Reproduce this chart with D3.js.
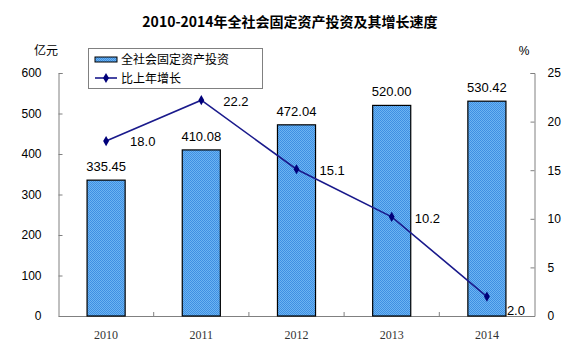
<!DOCTYPE html>
<html><head><meta charset="utf-8">
<script src="https://cdn.jsdelivr.net/npm/d3@7"></script>
<style>body{margin:0;background:#fff}svg{display:block}</style>
</head><body><svg id="c" width="576" height="357"></svg>
<script>
const years = ["2010","2011","2012","2013","2014"];
const investment = [335.45, 410.08, 472.04, 520.00, 530.42];
const growth = [18.0, 22.2, 15.1, 10.2, 2.0];
const leftTicks = [0,100,200,300,400,500,600];
const rightTicks = [0,5,10,15,20,25];
const title = "2010-2014年全社会固定资产投资及其增长速度";
const seriesNames = ["全社会固定资产投资","比上年增长"];

const svg = d3.select("#c");
const m={l:58.5,r:534.5,t:73,b:316};
const font="Arial, 'Liberation Sans', 'Noto Sans CJK SC', sans-serif";
const cjk="'Noto Sans CJK SC', sans-serif";

const defs=svg.append("defs");
const pat=defs.append("pattern").attr("id","dots").attr("patternUnits","userSpaceOnUse").attr("width",2).attr("height",2);
pat.append("rect").attr("width",2).attr("height",2).attr("fill","#6cb4f2");
pat.append("rect").attr("width",1).attr("height",1).attr("fill","#3f8fe2");
pat.append("rect").attr("x",1).attr("y",1).attr("width",1).attr("height",1).attr("fill","#3f8fe2");

const x=d3.scaleBand().domain(years).range([m.l,m.r]);
const yL=d3.scaleLinear().domain([0,600]).range([m.b,m.t]);
const yR=d3.scaleLinear().domain([0,25]).range([m.b,m.t]);

svg.append("text").attr("x",290).attr("y",27).attr("text-anchor","middle")
  .attr("font-family",cjk).attr("font-size",14).attr("font-weight","bold").attr("fill","#000").text(title);

const axL=d3.axisLeft(yL).tickValues(leftTicks).tickSize(-4).tickPadding(17);
const gL=svg.append("g").attr("transform",`translate(${m.l},0)`).call(axL);
const axR=d3.axisRight(yR).tickValues(rightTicks).tickSize(-4).tickPadding(13);
const gR=svg.append("g").attr("transform",`translate(${m.r},0)`).call(axR);
const axB=d3.axisBottom(x).tickSize(0).tickPadding(14);
const gB=svg.append("g").attr("transform",`translate(0,${m.b})`).call(axB);
[gL,gR,gB].forEach(g=>{
  g.select(".domain").attr("stroke","#808080");
  g.selectAll(".tick line").attr("stroke","#808080");
  g.selectAll("text").attr("font-family",font).attr("font-size",12).attr("fill","#000");
});
gB.selectAll("text").attr("font-family","'Liberation Serif', serif").attr("font-size",12).attr("fill","#333");
svg.append("g").selectAll("line").data(years.slice(1)).join("line")
  .attr("x1",d=>x(d)).attr("x2",d=>x(d)).attr("y1",m.b).attr("y2",m.b-4).attr("stroke","#808080");

svg.append("text").attr("x",46).attr("y",55).attr("text-anchor","middle").attr("font-family",cjk).attr("font-size",12).text("亿元");
svg.append("text").attr("x",524).attr("y",55).attr("text-anchor","middle").attr("font-family",font).attr("font-size",12).text("%");

const bw=x.bandwidth()*0.4;
svg.append("g").selectAll("rect").data(years).join("rect")
  .attr("x",d=>x(d)+x.bandwidth()/2-bw/2).attr("width",bw)
  .attr("y",(d,i)=>yL(investment[i])).attr("height",(d,i)=>m.b-yL(investment[i]))
  .attr("fill","url(#dots)").attr("stroke","#000").attr("stroke-width",1.2);
svg.append("g").selectAll("text").data(years).join("text")
  .attr("x",d=>x(d)+x.bandwidth()/2).attr("y",(d,i)=>yL(investment[i])-9)
  .attr("text-anchor","middle").attr("font-family",font).attr("font-size",13)
  .text((d,i)=>investment[i].toFixed(2));

const cx=d=>x(d)+x.bandwidth()/2;
const line=d3.line().x((d,i)=>cx(years[i])).y(d=>yR(d));
svg.append("path").datum(growth).attr("d",line).attr("fill","none").attr("stroke","#1a1a8c").attr("stroke-width",1.6);
const diamond=d3.symbol().type(d3.symbolDiamond).size(30);
svg.append("g").selectAll("path").data(growth).join("path")
  .attr("transform",(d,i)=>`translate(${cx(years[i])},${yR(d)})`).attr("d",diamond).attr("fill","#00007a");
const ldx=[24,22,23,23,20], ldy=[5,6,6,6,18];
svg.append("g").selectAll("text").data(growth).join("text")
  .attr("x",(d,i)=>cx(years[i])+ldx[i]).attr("y",(d,i)=>yR(d)+ldy[i])
  .attr("font-family",font).attr("font-size",13).text(d=>d.toFixed(1));

const lg=svg.append("g");
lg.append("rect").attr("x",88.5).attr("y",48.5).attr("width",174).attr("height",40).attr("fill","#fff").attr("stroke","#808080");
lg.append("rect").attr("x",95).attr("y",57).attr("width",22).attr("height",5).attr("fill","url(#dots)").attr("stroke","#000");
lg.append("line").attr("x1",95).attr("x2",117).attr("y1",78).attr("y2",78).attr("stroke","#1a1a8c").attr("stroke-width",1.6);
lg.append("path").attr("transform","translate(106,78)").attr("d",diamond).attr("fill","#00007a");
lg.selectAll("text.l").data(seriesNames).join("text").attr("class","l")
  .attr("x",121).attr("y",(d,i)=>64+i*19).attr("font-family",cjk).attr("font-size",12).text(d=>d);
</script></body></html>
